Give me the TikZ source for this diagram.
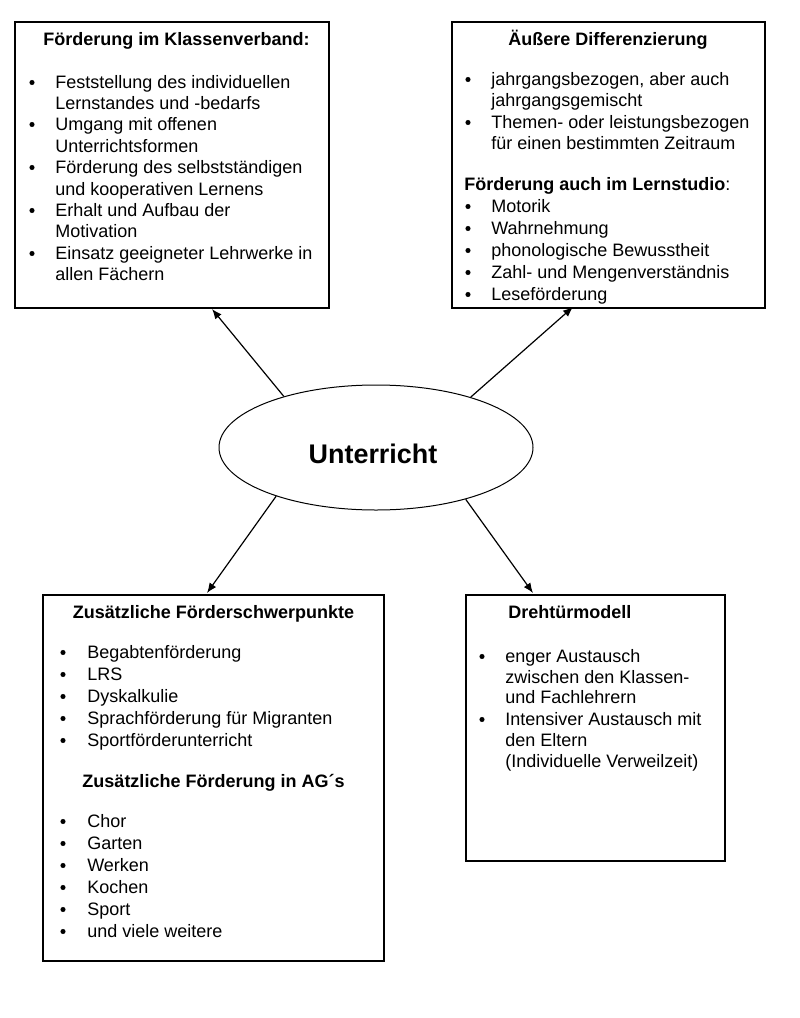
\documentclass[tikz,border=0pt]{standalone}
\usepackage{fontspec}
\setmainfont{Liberation Sans}
\usetikzlibrary{shapes.geometric,fit,arrows.meta}
\begin{document}
\begin{tikzpicture}[x=0.75pt,y=-0.75pt,
  box/.style={draw,line width=1.1pt,inner sep=0pt,rectangle},
  body/.style={anchor=base west,inner sep=0pt,font=\fontsize{13.5}{16}\selectfont},
  ttl/.style={inner sep=0pt,font=\fontsize{13.5}{16}\selectfont\bfseries},
  bul/.style={circle,fill,inner sep=0pt,minimum size=3.8pt},
  conn/.style={line width=0.9pt,-{Latex[length=7.5pt,width=6pt]}}]
\fill[white] (0,0) rectangle (800,1018);
\useasboundingbox (0,0) rectangle (800,1018);

% boxes
\node[box,fit={(15,22) (329,308)}] (b1) {};
\node[box,fit={(452,22) (765,308)}] (b2) {};
\node[box,fit={(43,595) (384,961)}] (b3) {};
\node[box,fit={(466,595) (725,861)}] (b4) {};

% ellipse
\node[draw,ellipse,line width=0.75pt,inner sep=0pt,minimum width=314*0.75pt,minimum height=125*0.75pt] (ell) at (376,447.5) {};
\node[anchor=base,inner sep=0pt,font=\fontsize{20.2}{24}\selectfont\bfseries] (ut) at (373,463) {Unterricht};

% connectors
\coordinate (t1) at (212,309);
\coordinate (t2) at (573,307);
\coordinate (t3) at (207,593);
\coordinate (t4) at (533,593);
\draw[conn] (ell.151) -- (t1);
\draw[conn] (ell.28) -- (t2);
\draw[conn] (ell.206) -- (t3);
\draw[conn] (ell.330) -- (t4);

% box 1
\node[ttl,anchor=base] (h1) at (176.5,45) {Förderung im Klassenverband:};
\foreach \yy [count=\i] in {88,130,173,216,259} \node[bul] (p1\i) at (32,\yy-5.5) {};
\node[body] (l1a) at (55,88) {Feststellung des individuellen};
\node[body] (l1b) at (55,109) {Lernstandes und -bedarfs};
\node[body] (l1c) at (55,130) {Umgang mit offenen};
\node[body] (l1d) at (55,152) {Unterrichtsformen};
\node[body] (l1e) at (55,173) {Förderung des selbstständigen};
\node[body] (l1f) at (55,195) {und kooperativen Lernens};
\node[body] (l1g) at (55,216) {Erhalt und Aufbau der};
\node[body] (l1h) at (55,237) {Motivation};
\node[body] (l1i) at (55,259) {Einsatz geeigneter Lehrwerke in};
\node[body] (l1j) at (55,280) {allen Fächern};

% box 2
\node[ttl,anchor=base] (h2) at (608,45) {Äußere Differenzierung};
\begin{scope}
\clip (452,22) rectangle (765,303);
\foreach \yy [count=\i] in {85,128,212,234,256,278,300} \node[bul] (p2\i) at (468,\yy-5.5) {};
\node[body] (l2a) at (491,85) {jahrgangsbezogen, aber auch};
\node[body] (l2b) at (491,106) {jahrgangsgemischt};
\node[body] (l2c) at (491,128) {Themen- oder leistungsbezogen};
\node[body] (l2d) at (491,149) {für einen bestimmten Zeitraum};
\node[body] (l2e) at (464,190) {\textbf{Förderung auch im Lernstudio}:};
\node[body] (l2f) at (491,212) {Motorik};
\node[body] (l2g) at (491,234) {Wahrnehmung};
\node[body] (l2h) at (491,256) {phonologische Bewusstheit};
\node[body] (l2i) at (491,278) {Zahl- und Mengenverständnis};
\node[body] (l2j) at (491,300) {Leseförderung};
\end{scope}

% box 3
\node[ttl,anchor=base] (h3) at (213.5,618) {Zusätzliche Förderschwerpunkte};
\foreach \yy [count=\i] in {658,680,702,724,746,827,849,871,893,915,937} \node[bul] (p3\i) at (63,\yy-5.5) {};
\node[body] (l3a) at (87,658) {Begabtenförderung};
\node[body] (l3b) at (87,680) {LRS};
\node[body] (l3c) at (87,702) {Dyskalkulie};
\node[body] (l3d) at (87,724) {Sprachförderung für Migranten};
\node[body] (l3e) at (87,746) {Sportförderunterricht};
\node[ttl,anchor=base] (h3b) at (213.5,787) {Zusätzliche Förderung in AG´s};
\node[body] (l3f) at (87,827) {Chor};
\node[body] (l3g) at (87,849) {Garten};
\node[body] (l3h) at (87,871) {Werken};
\node[body] (l3i) at (87,893) {Kochen};
\node[body] (l3j) at (87,915) {Sport};
\node[body] (l3k) at (87,937) {und viele weitere};

% box 4
\node[ttl,anchor=base west] (h4) at (508,618) {Drehtürmodell};
\foreach \yy [count=\i] in {662,725} \node[bul] (p4\i) at (482,\yy-5.5) {};
\node[body] (l4a) at (505,662) {enger Austausch};
\node[body] (l4b) at (505,683) {zwischen den Klassen-};
\node[body] (l4c) at (505,703) {und Fachlehrern};
\node[body] (l4d) at (505,725) {Intensiver Austausch mit};
\node[body] (l4e) at (505,746) {den Eltern};
\node[body] (l4f) at (505,767) {(Individuelle Verweilzeit)};
\end{tikzpicture}
\end{document}
